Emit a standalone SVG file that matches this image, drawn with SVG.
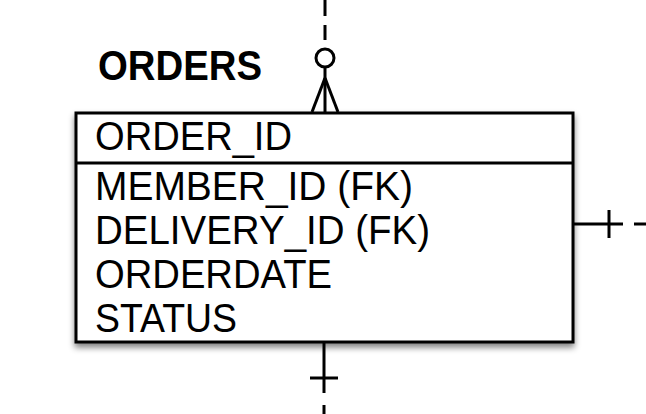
<svg xmlns="http://www.w3.org/2000/svg" width="646" height="414" viewBox="0 0 646 414">
<defs>
<filter id="sh" x="-10%" y="-10%" width="120%" height="130%">
<feGaussianBlur in="SourceAlpha" stdDeviation="3"/>
<feOffset dx="0" dy="4" result="b"/>
<feComponentTransfer><feFuncA type="linear" slope="0.5"/></feComponentTransfer>
<feMerge><feMergeNode/><feMergeNode in="SourceGraphic"/></feMerge>
</filter>
<style>
.ln{stroke:#000;stroke-width:3;fill:none}
.ds{stroke:#000;stroke-width:3;fill:none;stroke-dasharray:17 9}
.t{font-family:"Liberation Sans",Arial,sans-serif;font-size:40px;fill:#000}
.h{font-family:"Liberation Sans",Arial,sans-serif;font-size:42px;font-weight:bold;fill:#000}
</style>
</defs>
<g id="connectors">
<line class="ds" x1="325" y1="-1" x2="325" y2="40"/>
<circle class="ln" cx="325" cy="58" r="9"/>
<line class="ln" x1="325" y1="67" x2="325" y2="112"/>
<line class="ln" x1="325" y1="78" x2="312" y2="112"/>
<line class="ln" x1="325" y1="78" x2="338" y2="112"/>
<line class="ln" x1="573" y1="224" x2="623" y2="224"/>
<line class="ln" x1="609" y1="210" x2="609" y2="238"/>
<line class="ln" x1="634" y1="224" x2="646" y2="224"/>
<line class="ln" x1="324" y1="342" x2="324" y2="393"/>
<line class="ln" x1="310" y1="378" x2="338" y2="378"/>
<line class="ln" x1="324" y1="405" x2="324" y2="415"/>
</g>
<g id="orders">
<text class="h" x="98" y="80" textLength="164" lengthAdjust="spacingAndGlyphs">ORDERS</text>
<rect x="76" y="113" width="497" height="229" fill="#fff" stroke="#000" stroke-width="3" filter="url(#sh)"/>
<line class="ln" x1="76" y1="163" x2="573" y2="163"/>
<text class="t" x="95" y="150" textLength="197" lengthAdjust="spacingAndGlyphs">ORDER_ID</text>
<text class="t" x="95" y="200" textLength="318" lengthAdjust="spacingAndGlyphs">MEMBER_ID (FK)</text>
<text class="t" x="95" y="244" textLength="335" lengthAdjust="spacingAndGlyphs">DELIVERY_ID (FK)</text>
<text class="t" x="95" y="288" textLength="237" lengthAdjust="spacingAndGlyphs">ORDERDATE</text>
<text class="t" x="95" y="332" textLength="142" lengthAdjust="spacingAndGlyphs">STATUS</text>
</g>
</svg>
